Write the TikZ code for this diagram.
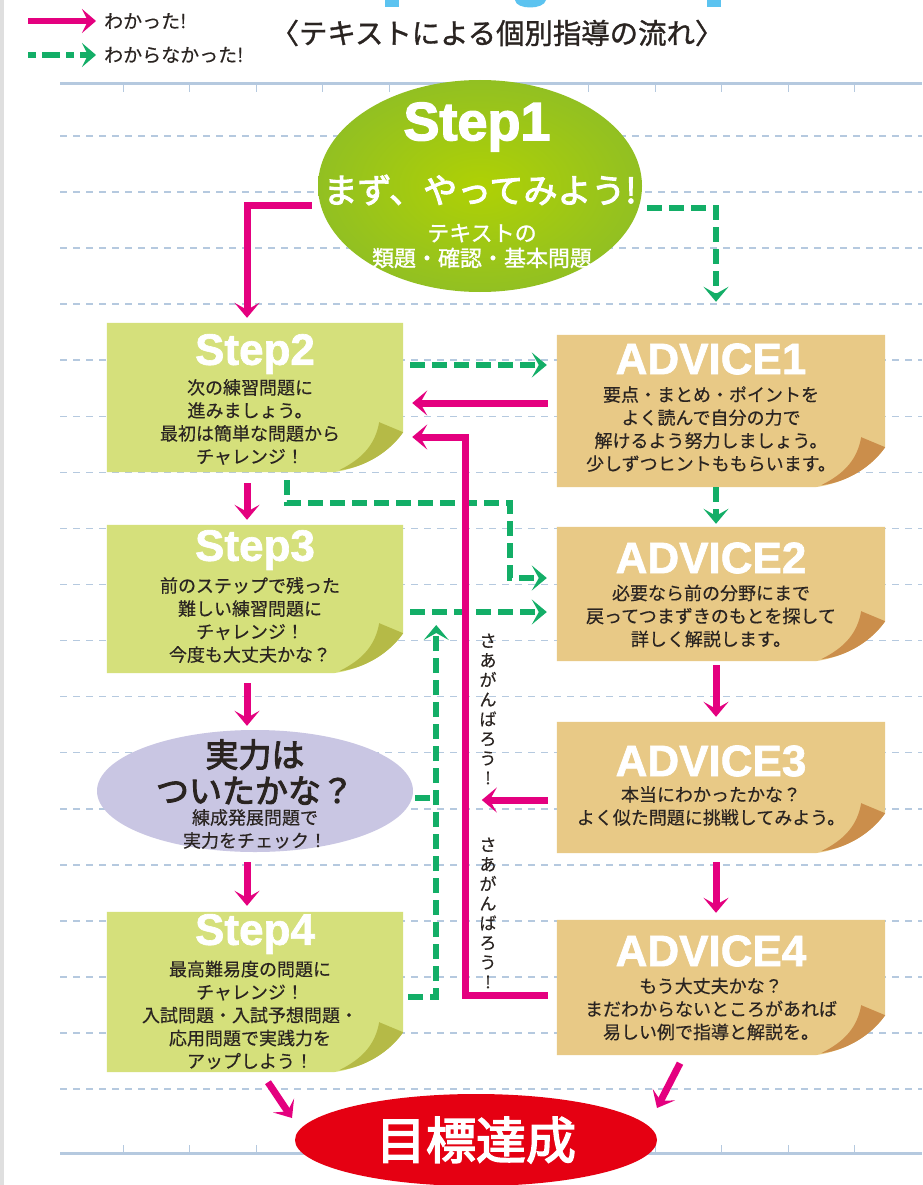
\documentclass[tikz,border=0pt]{standalone}
\usepackage{fontspec}
\usetikzlibrary{arrows.meta,shapes.geometric,calc}
\newfontfamily\jp{Noto Sans CJK JP}[FakeBold=0.4]
\newfontfamily\jpm{Noto Sans CJK JP}[FakeBold=1.2]
\newfontfamily\jpb{Noto Sans CJK JP}[FakeBold=3]
\newfontfamily\hd{Liberation Sans Bold}[FakeBold=1.5]
\newfontfamily\hdb{Liberation Sans Bold}[FakeBold=2.5]
\definecolor{mag}{HTML}{E4007F}
\definecolor{grn}{HTML}{13AE67}
\definecolor{stepc}{HTML}{D5E07B}
\definecolor{stepd}{HTML}{B5BA47}
\definecolor{advc}{HTML}{E8C986}
\definecolor{advd}{HTML}{CB8E4B}
\definecolor{purp}{HTML}{C9C6E3}
\definecolor{goalc}{HTML}{E50012}
\definecolor{lineb}{HTML}{B5C9DF}
\definecolor{sky}{HTML}{5CC3F0}
\definecolor{txt}{HTML}{2A2421}
\definecolor{gin}{HTML}{AFD104}
\definecolor{gout}{HTML}{92C022}
\newcommand\curlbox[3]{%
 \fill[#2] (#1.north west) -- (#1.north east) -- ($(#1.south east)+(0,-40)$) .. controls ($(#1.south east)+(-14,-20)$) and ($(#1.south east)+(-40,-4)$) .. ($(#1.south east)+(-70,0)$) -- (#1.south west) -- cycle;
 \fill[#3] ($(#1.south east)+(-24,-50)$) -- ($(#1.south east)+(0,-40)$) .. controls ($(#1.south east)+(-14,-20)$) and ($(#1.south east)+(-38,-5)$) .. ($(#1.south east)+(-64,-2)$) .. controls ($(#1.south east)+(-40,-14)$) and ($(#1.south east)+(-28,-28)$) .. ($(#1.south east)+(-24,-50)$) -- cycle;
}
\tikzset{
 box/.style={rectangle, draw=none, inner sep=0},
 magarr/.style={draw=mag, line width=7pt, -{Stealth[length=15pt,width=25pt,inset=7pt]}},
 grnarr/.style={draw=grn, line width=6pt, dash pattern=on 15pt off 7pt, -{Stealth[length=15pt,width=25pt,inset=7pt]}},
 grnline/.style={draw=grn, line width=6pt, dash pattern=on 15pt off 7pt},
 dline/.style={draw=lineb, line width=1.6pt, dash pattern=on 7pt off 6pt},
 sline/.style={draw=lineb, line width=3pt},
 tick/.style={draw=lineb, line width=1pt},
 head/.style={font=\hd\fontsize{44}{44}\selectfont, text=white, inner sep=0},
 body/.style={font=\jp\fontsize{18}{23}\selectfont, text=txt, align=center, inner sep=0},
 vtext/.style={font=\jp\fontsize{17}{19.6}\selectfont, text=txt, align=center, inner sep=0},
 legtxt/.style={font=\jp\fontsize{19}{20}\selectfont, text=txt, inner sep=0},
}
\begin{document}
\begin{tikzpicture}[x=1pt,y=-1pt]
\useasboundingbox (0,0) rectangle (922,1185);
\fill[white] (0,0) rectangle (922,1185);
\fill[gray!25] (0,0) rectangle (4,1185);
% top cut-off blue heading fragments
\fill[sky] (385,0) rectangle (399,7);
\fill[sky] (707,0) rectangle (721,7);
\fill[sky] (515,0) .. controls (516,10) and (544,10) .. (546,0) -- cycle;
% ruled paper
\foreach \k in {0,...,17}{\draw[dline] (60,{136+56.06*\k}) -- (922,{136+56.06*\k});}
\draw[sline] (60,84) -- (922,84);
\draw[sline] (60,1153) -- (922,1153);
\foreach \k in {0,...,11}{\draw[tick] ({123+66.5*\k},85) -- ({123+66.5*\k},92);
 \draw[tick] ({123+66.5*\k},1152) -- ({123+66.5*\k},1145);}
% title and legend
\node[font=\jpm\fontsize{28.4}{28}\selectfont, text=txt, inner sep=0] (title) at (497,33) {〈テキストによる個別指導の流れ〉};
\node[legtxt, anchor=west] (l1) at (104,21) {わかった!};
\node[legtxt, anchor=west] (l2) at (104,55) {わからなかった!};
\draw[draw=mag, line width=6pt, -{Stealth[length=14pt,width=24pt,inset=6pt]}] ($(l1.west)+(-76,0)$) -- ($(l1.west)+(-8,0)$);
\draw[draw=grn, line width=6pt, dash pattern=on 8pt off 6pt on 18pt off 6pt, -{Stealth[length=14pt,width=24pt,inset=6pt]}] ($(l2.west)+(-76,0)$) -- ($(l2.west)+(-8,0)$);
% nodes
\node[box, minimum width=296pt, minimum height=149pt] (s2) at (255,397.5) {};
\node[box, minimum width=328pt, minimum height=152pt] (a1) at (721,411) {};
\node[box, minimum width=296pt, minimum height=148pt] (s3) at (255,599) {};
\node[box, minimum width=328pt, minimum height=134pt] (a2) at (721,594) {};
\node[box, minimum width=328pt, minimum height=131pt] (a3) at (721,787.5) {};
\node[box, minimum width=296pt, minimum height=160pt] (s4) at (255,992) {};
\node[box, minimum width=328pt, minimum height=135pt] (a4) at (721,987.5) {};
\curlbox{s2}{stepc}{stepd}
\curlbox{s3}{stepc}{stepd}
\curlbox{s4}{stepc}{stepd}
\curlbox{a1}{advc}{advd}
\curlbox{a2}{advc}{advd}
\curlbox{a3}{advc}{advd}
\curlbox{a4}{advc}{advd}
\node[ellipse, minimum width=324pt, minimum height=212pt, inner sep=0, inner color=gin, outer color=gout] (s1) at (480,186) {};
\node[ellipse, minimum width=316pt, minimum height=122pt, inner sep=0, fill=purp] (e) at (255,791) {};
\node[ellipse, minimum width=362pt, minimum height=92pt, inner sep=0, fill=goalc] (goal) at (476,1140) {};
% green connectors
\draw[grnarr] ($(s1.east)+(5,22)$) -| ($(a1.north)+(-5,-33)$);
\draw[grnarr] ($(s2.east)+(7,-32.5)$) -- ($(a1.west)+(-10,-46)$);
\draw[grnarr] ($(a1.south)+(-5,0)$) -- ($(a2.north)+(-5,-3)$);
\draw[grnarr] ($(s2.south)+(32,8)$) |- ($(s2.south)+(255,31)$) |- ($(a2.west)+(-10,-16)$);
\draw[grnarr] ($(s3.east)+(7,13)$) -- ($(a2.west)+(-10,18)$);
\draw[grnline] ($(e.east)+(2,7)$) -- ($(e.east)+(23,7)$);
\draw[grnarr] ($(s4.east)+(5,5)$) -| ($(s3.east)+(33,26)$);
% magenta connectors
\draw[magarr] ($(s1.west)+(-6,19)$) -| ($(s2.north)+(-8,-5)$);
\draw[magarr] ($(a1.west)+(-9,-8)$) -- ($(s2.east)+(9,5.5)$);
\draw[magarr] ($(a4.west)+(-9,7.5)$) -| ($(s2.east)+(62,39.5)$) -- ($(s2.east)+(9,39.5)$);
\draw[magarr] ($(s2.south)+(-8,11)$) -- ($(s3.north)+(-8,-5)$);
\draw[magarr] ($(s3.south)+(-8,10)$) -- ($(e.north)+(-8,-4)$);
\draw[magarr] ($(a2.south)+(-5,4)$) -- ($(a3.north)+(-5,-5)$);
\draw[magarr] ($(a3.west)+(-9,12.5)$) -- ($(a3.west)+(-75,12.5)$);
\draw[magarr] ($(e.south)+(-8,10)$) -- ($(s4.north)+(-8,-6)$);
\draw[magarr] ($(a3.south)+(-5,9)$) -- ($(a4.north)+(-5,-7)$);
\draw[magarr] ($(s4.south)+(13,10)$) -- ($(goal.center)+(-184,-22)$);
\draw[magarr] ($(a4.south)+(-41,8)$) -- ($(goal.center)+(181,-32)$);
% vertical text
\node[vtext] (v1) at (488,709) {さ\\あ\\が\\ん\\ば\\ろ\\う\\!};
\node[vtext] (v2) at (488,913) {さ\\あ\\が\\ん\\ば\\ろ\\う\\!};
% Step1 texts
\node[font=\hdb\fontsize{54}{54}\selectfont, text=white, inner sep=0] (s1h) at (477,127) {Step1};
\node[font=\jpb\fontsize{34}{34}\selectfont, text=white, inner sep=0] (s1a) at (480,190) {まず、やってみよう!};
\node[font=\jpm\fontsize{22}{25}\selectfont, text=white, align=center, inner sep=0] (s1b) at (482,246) {テキストの\\類題・確認・基本問題};
% box texts
\node[head] (s2h) at (255,354) {Step2};
\node[body] (s2b) at (250,422) {次の練習問題に\\進みましょう。\\最初は簡単な問題から\\チャレンジ！};
\node[head] (a1h) at (711,359) {ADVICE1};
\node[body] (a1b) at (711,429) {要点・まとめ・ポイントを\\よく読んで自分の力で\\解けるよう努力しましょう。\\少しずつヒントももらいます。};
\node[head] (s3h) at (255,550) {Step3};
\node[body] (s3b) at (250,620) {前のステップで残った\\難しい練習問題に\\チャレンジ！\\今度も大丈夫かな？};
\node[head] (a2h) at (711,558) {ADVICE2};
\node[body] (a2b) at (711,616) {必要なら前の分野にまで\\戻ってつまずきのもとを探して\\詳しく解説します。};
\node[font=\jpb\fontsize{33}{36}\selectfont, text=txt, align=center, inner sep=0] (eh) at (255,772) {実力は\\ついたかな？};
\node[body] (eb) at (255,829) {練成発展問題で\\実力をチェック！};
\node[head] (a3h) at (711,761) {ADVICE3};
\node[body] (a3b) at (711,806) {本当にわかったかな？\\よく似た問題に挑戦してみよう。};
\node[head] (s4h) at (255,934) {Step4};
\node[body] (s4b) at (250,1015) {最高難易度の問題に\\チャレンジ！\\入試問題・入試予想問題・\\応用問題で実践力を\\アップしよう！};
\node[head] (a4h) at (711,951) {ADVICE4};
\node[body] (a4b) at (711,1009) {もう大丈夫かな？\\まだわからないところがあれば\\易しい例で指導と解説を。};
\node[font=\jpb\fontsize{50}{50}\selectfont, text=white, inner sep=0] (gt) at (476,1140) {目標達成};
\end{tikzpicture}
\end{document}
